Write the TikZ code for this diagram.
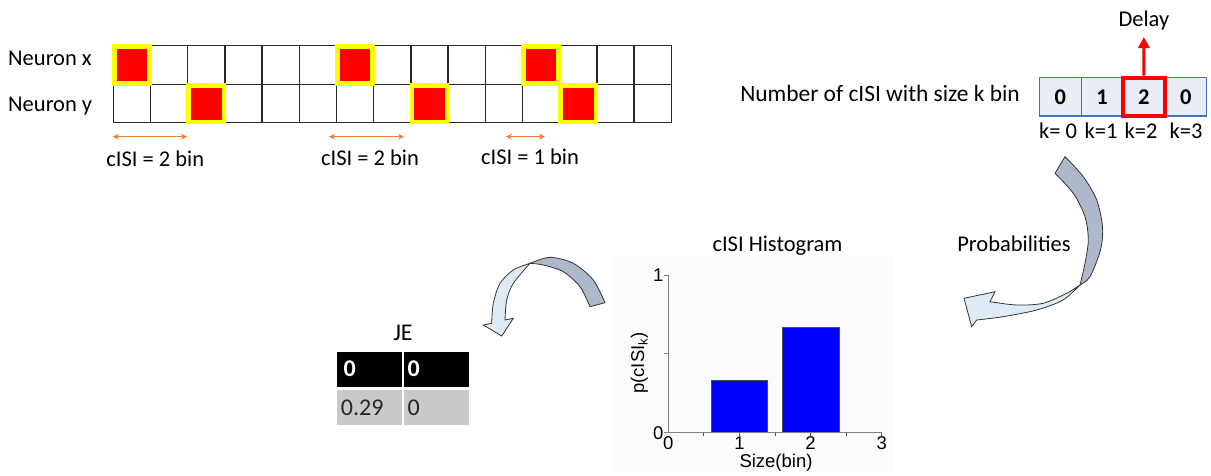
\documentclass[tikz,border=0pt]{standalone}
\usepackage{fontspec}
\setmainfont{Carlito}
\newfontfamily\plotfont{Liberation Sans}
\usetikzlibrary{arrows.meta}
\definecolor{spikered}{HTML}{FF0000}
\definecolor{spikeedge}{HTML}{FFFF00}
\definecolor{isiorange}{HTML}{ED7D31}
\definecolor{cellfill}{HTML}{E9EDF5}
\definecolor{cellblue}{HTML}{4472C4}
\definecolor{bandgray}{HTML}{ADB9CA}
\definecolor{bandblue}{HTML}{DEEBF7}
\definecolor{barblue}{HTML}{0000FF}
\definecolor{axisgray}{HTML}{808080}
\definecolor{rowgray}{HTML}{C9C9C9}
\definecolor{plotback}{HTML}{FBFBFB}

\begin{document}
\begin{tikzpicture}[x=1pt,y=-1pt,
  lbl/.style={font=\fontsize{22.5}{27}\selectfont, inner sep=0pt},
  tbl/.style={font=\fontsize{24}{28}\selectfont, inner sep=0pt},
  plbl/.style={font=\plotfont\fontsize{18.5}{22}\selectfont, inner sep=0pt},
  gridline/.style={draw=black!85, line width=1.3pt},
  spike/.style={draw=spikeedge, line width=4.5pt, fill=spikered},
  isi/.style={draw=isiorange, line width=1.5pt, {Stealth[length=6pt,width=6pt]}-{Stealth[length=6pt,width=6pt]}},
  kcell/.style={draw=cellblue, fill=cellfill, line width=1.2pt, minimum width=41.85pt, minimum height=38.7pt, inner sep=0pt, font=\fontsize{22.5}{27}\selectfont\bfseries},
  band/.style={draw=black!80, line width=0.8pt},
  bar/.style={fill=barblue, draw=black!70, line width=0.8pt},
  jecell/.style={minimum width=65pt, minimum height=35pt, inner sep=0pt},
]
\useasboundingbox (0,0) rectangle (1211,475);

% ---------- spike trains ----------
\node[lbl, anchor=base west] (nx) at (8,65.7) {Neuron x};
\node[lbl, anchor=base west] (ny) at (8,111) {Neuron y};
\foreach \i in {0,...,14} {
  \draw[gridline] (113.3+37.2*\i,45.7) rectangle ++(37.2,38.6);
  \draw[gridline] (113.3+37.2*\i,84.3) rectangle ++(37.2,38);
}
\foreach \c in {0,6,11}
  \draw[spike] (113.3+37.2*\c+1,45.7+1) rectangle ++(35.2,36.6);
\foreach \c in {2,8,12}
  \draw[spike] (113.3+37.2*\c+1,84.3+1) rectangle ++(35.2,36.6);

% intervals between paired spikes
\coordinate (a1s) at (112.7,136.7); \coordinate (a1e) at (187,136.7);
\coordinate (a2s) at (329,136.7);   \coordinate (a2e) at (404,136.7);
\coordinate (a3s) at (506,136.7);   \coordinate (a3e) at (545,136.7);
\draw[isi] (a1s) -- (a1e);
\draw[isi] (a2s) -- (a2e);
\draw[isi] (a3s) -- (a3e);
\node[lbl, anchor=base] (l1) at (155.3,166.5) {cISI = 2 bin};
\node[lbl, anchor=base] (l2) at (370,165.5) {cISI = 2 bin};
\node[lbl, anchor=base] (l3) at (530,164) {cISI = 1 bin};

% ---------- counts per bin ----------
\node[lbl, anchor=base east, font=\fontsize{23.4}{28}\selectfont] (ntext) at (1020,101.7) {Number of cISI with size k bin};
\foreach \i/\v in {0/0,1/1,2/2,3/0}
  \node[kcell] (k\i) at (1060.2+41.85*\i,96.7) {\v};
\node[draw=spikered, line width=4pt, minimum width=41.3pt, minimum height=38pt, inner sep=0pt] (sel) at (k2) {};
\node[lbl, anchor=base] (delay) at (1143.9,26.7) {Delay};
\coordinate (dtip) at (1143.9,37);
\draw[spikered, line width=3pt, -{Triangle[length=11pt,width=11pt]}] (sel.north) -- (dtip);
\node[lbl, anchor=base] (kl0) at (1058,138.3) {k= 0};
\node[lbl, anchor=base] (kl1) at (1101,138.3) {k=1};
\node[lbl, anchor=base] (kl2) at (1141,138.3) {k=2};
\node[lbl, anchor=base] (kl3) at (1186,138.3) {k=3};

% ---------- curved arrow: counts -> histogram ----------
\draw[band, fill=bandblue]
  plot[smooth] coordinates {(1080,285) (1066.7,293.3) (1043,303.3) (1016.7,305) (990,301.7)}
  -- (995,291.7) -- (964,298.3) -- (971.7,326.7) -- (976.7,320)
  -- plot[smooth] coordinates {(976.7,320) (1003,316.7) (1036.7,310) (1063,300) (1080,285)}
  -- cycle;
\draw[band, fill=bandgray]
  plot[smooth] coordinates {(1065,156.7) (1083.3,176.7) (1096.7,200) (1102.5,226.7) (1100.5,250) (1090,276.7) (1080,285)}
  -- plot[smooth] coordinates {(1080,285) (1085,263.3) (1088.3,240) (1085,216.7) (1073.3,193.3) (1055,173.3)}
  -- cycle;
\node[lbl, anchor=base] (prob) at (1014,251.7) {Probabilities};

% ---------- histogram ----------
\fill[plotback] (612,256) rectangle (893,472);
\node[lbl, anchor=base] (htitle) at (777.5,251) {cISI Histogram};
\draw[bar] (710.9,432.7) rectangle (767.8,380.1);
\draw[bar] (782,432.7) rectangle (838.9,327.6);
\draw[axisgray, line width=1.5pt] (668.3,275) -- (668.3,432.7) -- (881.7,432.7);
\foreach \y in {275,353.85,432.7}
  \draw[axisgray, line width=1pt] (668.3,\y) -- ++(-4,0);
\foreach \j in {1,...,6}
  \draw[black!70, line width=1pt] (668.3+35.57*\j,432.7) -- ++(0,3);
\node[plbl, anchor=base] (y1) at (658.3,281.5) {1};
\node[plbl, anchor=base] (y0) at (658.3,439) {0};
\foreach \j in {0,...,3}
  \node[plbl, anchor=base] (x\j) at (668.3+71.13*\j,449.5) {\j};
\node[plbl, anchor=base] (xlab) at (776,467.5) {Size(bin)};
\node[plbl, rotate=90] (ylab) at (639.3,363) {p(cISI\textsubscript{k})};

% ---------- curved arrow: histogram -> JE ----------
\draw[band, fill=bandblue]
  plot[smooth] coordinates {(530,263.3) (513.3,270) (500,283.3) (493.3,303.3) (491.7,323.3)}
  -- (483.3,325) -- (501.7,336) -- (513.3,318.3) -- (505,320)
  -- plot[smooth] coordinates {(505,320) (506.7,300) (513.3,283.3) (530,263.3)}
  -- cycle;
\draw[band, fill=bandgray]
  plot[smooth] coordinates {(605,302.7) (593.3,280) (573.3,263.3) (550,257.3) (530,263.3)}
  -- plot[smooth] coordinates {(530,263.3) (543.3,265) (563.3,271.7) (580,286.7) (590,306.7)}
  -- cycle;

% ---------- JE table ----------
\node[tbl, anchor=base] (je) at (403,340) {JE};
\node[jecell, fill=black] (j11) at (369.8,369.2) {};
\node[jecell, fill=black] (j12) at (436.8,369.2) {};
\node[jecell, fill=rowgray] (j21) at (369.8,407.7) {};
\node[jecell, fill=rowgray] (j22) at (436.8,407.7) {};
\node[tbl, anchor=base west, text=white, font=\fontsize{24}{28}\selectfont\bfseries] (t11) at (343.3,376) {0};
\node[tbl, anchor=base west, text=white, font=\fontsize{24}{28}\selectfont\bfseries] (t12) at (407.3,376) {0};
\node[tbl, anchor=base west, text=black!85] (t21) at (340.7,415) {0.29};
\node[tbl, anchor=base west, text=black!85] (t22) at (407.3,415) {0};
\end{tikzpicture}
\end{document}
